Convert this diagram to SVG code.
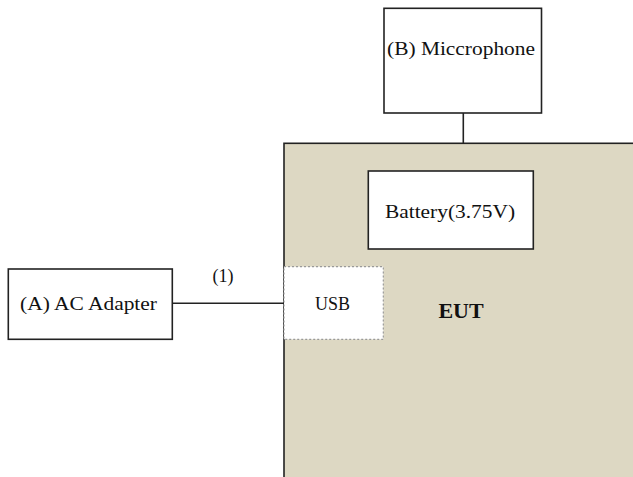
<svg xmlns="http://www.w3.org/2000/svg" width="633" height="477" viewBox="0 0 633 477">
<style>
.box{fill:#fff;stroke:#222;stroke-width:1.6}
.lbl{fill:#111;text-anchor:middle;font-family:'Liberation Serif','Times New Roman',serif}
.wire{stroke:#222;stroke-width:1.6;fill:none}
</style>
<rect width="633" height="477" fill="#fff"/>
<g id="eut">
<rect x="284" y="143.3" width="360" height="345" fill="#DDD8C3" stroke="#222" stroke-width="1.6"/>
<text class="lbl" x="461" y="318" font-size="22" font-weight="bold">EUT</text>
</g>
<g id="battery">
<rect class="box" x="368.3" y="171" width="165" height="78"/>
<text class="lbl" x="450" y="218" font-size="18" textLength="130" lengthAdjust="spacingAndGlyphs">Battery(3.75V)</text>
</g>
<g id="usb">
<rect x="284" y="266.7" width="99.3" height="72.6" fill="#fff" stroke="#999" stroke-width="1.2" stroke-dasharray="2,2"/>
<text class="lbl" x="332.5" y="310" font-size="18">USB</text>
</g>
<g id="microphone">
<rect class="box" x="384" y="8.3" width="157.5" height="104.7"/>
<text class="lbl" x="461" y="55" font-size="18" textLength="148" lengthAdjust="spacingAndGlyphs">(B) Miccrophone</text>
</g>
<g id="adapter">
<rect class="box" x="8.3" y="269" width="164" height="70.3"/>
<text class="lbl" x="88.5" y="310" font-size="18" textLength="137" lengthAdjust="spacingAndGlyphs">(A) AC Adapter</text>
</g>
<g id="connectors">
<line class="wire" x1="463.3" y1="113" x2="463.3" y2="143.3"/>
<line class="wire" x1="172.3" y1="303.3" x2="284" y2="303.3"/>
<text class="lbl" x="223" y="281.5" font-size="18">(1)</text>
</g>
</svg>
